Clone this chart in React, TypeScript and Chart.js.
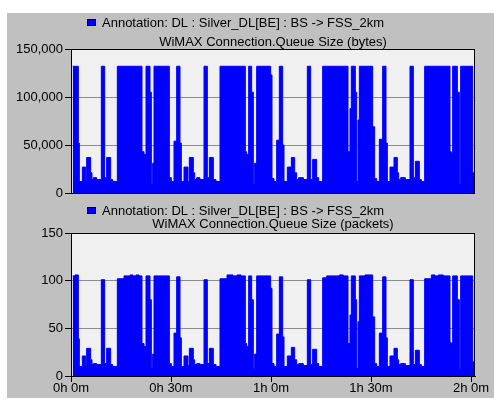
import React, { useEffect, useRef } from 'react';
import { Chart, registerables } from 'chart.js';

Chart.register(...registerables);

const legendLabel = 'Annotation: DL : Silver_DL[BE] : BS -> FSS_2km';
const bytesTitle = 'WiMAX Connection.Queue Size (bytes)';
const packetsTitle = 'WiMAX Connection.Queue Size (packets)';

const xTickValues = [0, 30, 60, 90, 120];
const xTickLabels = ['0h 0m', '0h 30m', '1h 0m', '1h 30m', '2h 0m'];
const bytesTickStep = 50000;
const packetsTickStep = 50;

// sample start times (minutes)
const timeMinutes = [
  0.5, 1.2, 2.2, 2.5, 3.4, 4.4, 4.7, 5.9, 6.3, 6.7, 7.7, 9.1, 10.1, 10.7, 11.9, 12.5,
  13.9, 15.9, 17.7, 18.6, 19.5, 20.4, 21.3, 21.9, 22.5, 23.7, 24.1, 24.5, 24.9, 29.5, 30.1,
  30.9, 31.7, 32.7, 33.1, 33.9, 35.1, 35.5, 36.7, 37.1, 37.7, 38.7, 39.9, 40.9, 41.5, 42.7,
  43.5, 44.7, 46.8, 48.6, 49.8, 51.0, 52.3, 52.7, 53.3, 54.2, 54.7, 55.1, 55.7, 59.9, 60.3,
  60.9, 61.7, 62.5, 63.5, 63.9, 64.9, 66.1, 67.1, 67.7, 68.3, 69.7, 70.9, 71.9, 72.5, 73.7,
  74.3, 75.5, 76.7, 80.5, 81.7, 83.1, 83.7, 84.1, 85.3, 85.7, 86.1, 86.5, 88.2, 90.5, 91.1,
  91.7, 92.5, 93.5, 94.5, 94.9, 95.7, 96.9, 97.9, 98.3, 98.9, 100.3, 101.7, 102.7, 103.3, 104.5,
  105.1, 106.1, 108.1, 109.2, 110.2, 111.7, 113.7, 114.1, 114.5, 115.9, 116.5, 116.9, 120.5, 120.9,
];

const queueBytes = [
  132000, 132000, 52000, 12000, 27000, 13000, 37000, 21000, 14000, 16000, 14000, 132000, 16000, 37000, 14000, 12000,
  132000, 132000, 132000, 132000, 132000, 132000, 43000, 40000, 132000, 105000, 10000, 31000, 132000, 16000, 12000,
  54000, 132000, 52000, 12000, 27000, 12000, 37000, 21000, 14000, 16000, 14000, 132000, 16000, 37000, 14000,
  12000, 132000, 132000, 132000, 132000, 132000, 43000, 40000, 132000, 105000, 10000, 31000, 132000, 123000, 15000,
  12000, 55000, 132000, 50000, 12000, 27000, 37000, 21000, 14000, 16000, 14000, 132000, 14000, 35000, 16000,
  12000, 132000, 132000, 132000, 132000, 43000, 88000, 132000, 105000, 12000, 76000, 132000, 132000, 69000, 15000,
  12000, 56000, 132000, 52000, 12000, 27000, 37000, 21000, 14000, 16000, 14000, 132000, 16000, 33000, 14000,
  12000, 132000, 132000, 132000, 132000, 132000, 43000, 42000, 132000, 105000, 10000, 132000, 21000, 0,
];

const queuePackets = [
  105, 106, 39, 10, 21, 11, 29, 17, 12, 13, 12, 101, 13, 29, 12, 10,
  102, 105, 106, 105, 106, 105, 34, 31, 105, 80, 8, 23, 105, 13, 10,
  45, 104, 40, 10, 21, 11, 29, 17, 12, 13, 12, 101, 13, 29, 12,
  10, 102, 106, 105, 106, 105, 34, 31, 105, 80, 8, 23, 105, 92, 13,
  10, 44, 104, 41, 10, 21, 30, 17, 12, 13, 11, 101, 12, 28, 13,
  10, 103, 105, 106, 105, 34, 64, 105, 80, 8, 57, 105, 106, 62, 13,
  10, 45, 104, 40, 10, 21, 29, 17, 12, 13, 11, 101, 12, 27, 12,
  10, 102, 106, 105, 106, 105, 35, 34, 105, 80, 8, 105, 15, 0,
];

const FONT = '"Liberation Sans", Arial, sans-serif';
const FONT_SIZE = 13;
const BLUE = '#0000ff';

function framePlugin(title: string, legendTop: number, titleY: number) {
  return {
    id: 'opnetFrame',
    beforeDraw(chart: any) {
      const { ctx, chartArea: a } = chart;
      ctx.save();
      ctx.fillStyle = '#f0f0f0';
      ctx.fillRect(a.left, a.top, a.right - a.left, a.bottom - a.top);
      ctx.restore();
    },
    afterDraw(chart: any) {
      const { ctx, chartArea: a } = chart;
      ctx.save();
      ctx.strokeStyle = '#000';
      ctx.lineWidth = 1;
      ctx.strokeRect(Math.round(a.left) + 0.5, Math.round(a.top) + 0.5, Math.round(a.right - a.left) - 1, Math.round(a.bottom - a.top));
      // legend
      ctx.fillStyle = BLUE;
      ctx.fillRect(80, legendTop, 9, 7);
      ctx.strokeStyle = '#000';
      ctx.strokeRect(80.5, legendTop + 0.5, 8, 6);
      ctx.fillStyle = '#000';
      ctx.font = `${FONT_SIZE}px ${FONT}`;
      ctx.textBaseline = 'middle';
      ctx.textAlign = 'left';
      ctx.fillText(legendLabel, 95, legendTop + 4);
      ctx.textAlign = 'center';
      ctx.fillText(title, (a.left + a.right) / 2, titleY);
      ctx.restore();
    },
  };
}

function buildChart(canvas: HTMLCanvasElement, values: number[], step: number, top: boolean) {
  const maxY = step * 3;
  return new Chart(canvas, {
    type: 'line',
    data: {
      datasets: [
        {
          data: timeMinutes.map((t, i) => ({ x: t, y: values[i] })),
          stepped: true,
          fill: 'origin',
          backgroundColor: BLUE,
          borderColor: BLUE,
          borderWidth: 1,
          pointRadius: 0,
        },
      ],
    },
    options: {
      animation: false,
      responsive: false,
      devicePixelRatio: 1,
      events: [],
      layout: { padding: top ? { left: 0, right: 19, top: 36, bottom: 10 } : { left: 0, right: 19, top: 30, bottom: 0 } },
      plugins: { legend: { display: false }, title: { display: false }, tooltip: { enabled: false } },
      scales: {
        x: {
          type: 'linear',
          min: 0,
          max: 121.2,
          display: !top,
          afterBuildTicks: (s: any) => {
            s.ticks = xTickValues.map((v) => ({ value: v }));
          },
          afterFit: (s: any) => {
            s.height = top ? 0 : 22;
          },
          grid: { drawOnChartArea: false, tickLength: 6, color: '#000', tickColor: '#000' },
          border: { display: true, color: '#000' },
          ticks: {
            autoSkip: false,
            maxRotation: 0,
            padding: -1,
            color: '#000',
            font: { family: FONT, size: FONT_SIZE },
            callback: (v: any) => {
              const i = xTickValues.indexOf(Number(v));
              return i >= 0 ? xTickLabels[i] : '';
            },
          },
        },
        y: {
          min: 0,
          max: maxY,
          afterFit: (s: any) => {
            s.width = 64;
          },
          grid: { color: '#8c8c8c', tickColor: '#000', tickLength: 6 },
          border: { display: true, color: '#000' },
          ticks: {
            stepSize: step,
            padding: 2,
            color: '#000',
            font: { family: FONT, size: FONT_SIZE },
            callback: (v: any) => Number(v).toLocaleString('en-US'),
          },
        },
      },
    },
    plugins: [top ? framePlugin(bytesTitle, 6, 29) : framePlugin(packetsTitle, 4, 21)],
  } as any);
}

export default function App() {
  const ref1 = useRef<HTMLCanvasElement>(null);
  const ref2 = useRef<HTMLCanvasElement>(null);
  useEffect(() => {
    const c1 = buildChart(ref1.current!, queueBytes, bytesTickStep, true);
    const c2 = buildChart(ref2.current!, queuePackets, packetsTickStep, false);
    return () => {
      c1.destroy();
      c2.destroy();
    };
  }, []);
  return (
    <div style={{ position: 'fixed', left: 0, top: 0, width: 494, height: 401, background: '#fff', overflow: 'hidden' }}>
      <div style={{ position: 'absolute', left: 7, top: 13, width: 487, height: 385, background: '#c0c0c0' }}>
        <canvas ref={ref1} width={487} height={190} style={{ position: 'absolute', left: 0, top: 0, width: 487, height: 190 }} />
        <canvas ref={ref2} width={487} height={195} style={{ position: 'absolute', left: 0, top: 190, width: 487, height: 195 }} />
      </div>
    </div>
  );
}
